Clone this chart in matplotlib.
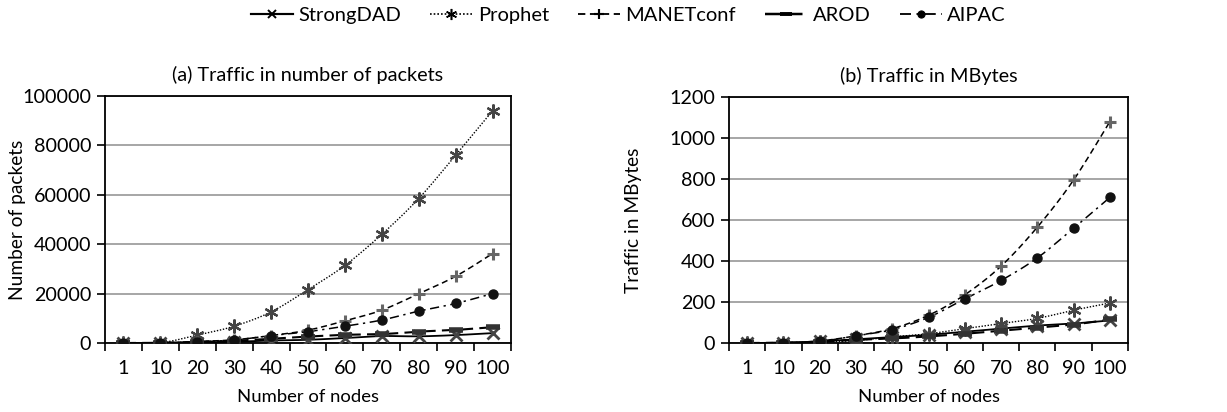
import numpy as np
import matplotlib
matplotlib.use('Agg')
import matplotlib.pyplot as plt
from matplotlib.lines import Line2D
from matplotlib.ticker import FixedLocator

plt.rcParams['font.family'] = ['Lato', 'DejaVu Sans']

nodes = ['1', '10', '20', '30', '40', '50', '60', '70', '80', '90', '100']

# (a) Traffic in number of packets
pk_strongdad = [0, 30, 200, 500, 1000, 1300, 2000, 2800, 2700, 3200, 4000]
pk_prophet = [0, 100, 3200, 6800, 12600, 21600, 31400, 44000, 58500, 76000, 94000]
pk_manetconf = [0, 100, 600, 1300, 3000, 5200, 9000, 13300, 20000, 27000, 36200]
pk_arod = [0, 50, 400, 900, 1700, 2600, 3300, 3600, 4600, 5300, 6400]
pk_aipac = [0, 100, 500, 1200, 3000, 4600, 6800, 9300, 12900, 16000, 20000]

# (b) Traffic in MBytes
mb_strongdad = [0, 1, 8, 18, 28, 40, 55, 70, 85, 95, 110]
mb_prophet = [0, 1, 5, 12, 30, 45, 70, 95, 120, 160, 195]
mb_manetconf = [0, 2, 10, 35, 70, 135, 235, 375, 565, 795, 1080]
mb_arod = [0, 1, 6, 15, 22, 32, 45, 60, 75, 90, 115]
mb_aipac = [0, 1, 8, 35, 65, 125, 215, 305, 415, 560, 710]

series_names = ['StrongDAD', 'Prophet', 'MANETconf', 'AROD', 'AIPAC']
titles = ['(a) Traffic in number of packets', '(b) Traffic in MBytes']

styles = {
    'StrongDAD': dict(ls='-', lw=1.3, marker='x', ms=8, mec='#444444', mfc='#444444', mew=2.0),
    'Prophet': dict(ls=(0, (1, 1.2)), lw=1.0, marker=(6, 2, 0), ms=10, mec='#444444', mfc='#444444', mew=1.6),
    'MANETconf': dict(ls=(0, (4, 2.5)), lw=1.1, marker='+', ms=9, mec='#666666', mfc='#666666', mew=2.2),
    'AROD': dict(ls=(0, (6, 3)), lw=1.5, marker='_', ms=10, mec='#333333', mfc='#333333', mew=4.0),
    'AIPAC': dict(ls=(0, (6, 3, 1.5, 3)), lw=1.1, marker='o', ms=6.5, mec='#111111', mfc='#111111', mew=1.0),
}


def smooth(x, y, n=24):
    x = np.asarray(x, float)
    y = np.asarray(y, float)
    xs, ys = [x[0]], [y[0]]
    m = len(x)
    t = np.linspace(0, 1, n)[1:]
    for i in range(m - 1):
        i0 = max(i - 1, 0)
        i3 = min(i + 2, m - 1)
        c1x = x[i] + (x[i + 1] - x[i0]) / 6
        c1y = y[i] + (y[i + 1] - y[i0]) / 6
        c2x = x[i + 1] - (x[i3] - x[i]) / 6
        c2y = y[i + 1] - (y[i3] - y[i]) / 6
        bx = (1 - t) ** 3 * x[i] + 3 * (1 - t) ** 2 * t * c1x + 3 * (1 - t) * t ** 2 * c2x + t ** 3 * x[i + 1]
        by = (1 - t) ** 3 * y[i] + 3 * (1 - t) ** 2 * t * c1y + 3 * (1 - t) * t ** 2 * c2y + t ** 3 * y[i + 1]
        xs.extend(bx)
        ys.extend(by)
    return np.array(xs), np.array(ys)


W, H = 1227, 412
fig = plt.figure(figsize=(W / 100, H / 100), dpi=100)

ax1 = fig.add_axes([105 / W, (H - 343) / H, 406 / W, 247 / H])
ax2 = fig.add_axes([729 / W, (H - 343) / H, 399 / W, 246 / H])

data_a = [pk_strongdad, pk_prophet, pk_manetconf, pk_arod, pk_aipac]
data_b = [mb_strongdad, mb_prophet, mb_manetconf, mb_arod, mb_aipac]

TFS = 14.2
LFS = 13.3

for ax, data, ymax, ystep, ylabel, ylx, title in [
    (ax1, data_a, 100000, 20000, 'Number of packets', (18 - 105) / 406, titles[0]),
    (ax2, data_b, 1200, 200, 'Traffic in MBytes', (633 - 729) / 399, titles[1]),
]:
    x = np.arange(len(nodes))
    for name, vals in zip(series_names, data):
        st = styles[name]
        sx, sy = smooth(x, vals)
        ax.plot(sx, sy, color='black', ls=st['ls'], lw=st['lw'], zorder=3)
        ax.plot(x, vals, ls='none', marker=st['marker'], ms=st['ms'], mec=st['mec'],
                mfc=st['mfc'], mew=st['mew'], zorder=4)
    ax.set_xlim(-0.5, len(nodes) - 0.5)
    ax.set_ylim(0, ymax)
    ax.set_yticks(np.arange(0, ymax + 1, ystep))
    ax.set_xticks(x)
    ax.set_xticklabels(nodes)
    ax.xaxis.set_minor_locator(FixedLocator(np.arange(-0.5, len(nodes), 1.0)))
    ax.tick_params(axis='x', which='major', length=0, pad=12, labelsize=TFS)
    ax.tick_params(axis='x', which='minor', length=6, width=1.2, direction='out')
    ax.tick_params(axis='y', which='major', length=6, width=1.2, direction='out', labelsize=TFS, pad=4)
    ax.grid(axis='y', color='#a6a6a6', lw=1.4, zorder=0)
    ax.set_axisbelow(True)
    for sp in ax.spines.values():
        sp.set_color('black')
        sp.set_linewidth(1.3)
    ax.set_xlabel('Number of nodes', fontsize=LFS, va='center')
    ax.xaxis.set_label_coords(0.5, (343 - 397) / 247)
    ax.set_ylabel(ylabel, fontsize=LFS + 0.5, va='center')
    ax.yaxis.set_label_coords(ylx, 0.5)
    ax.text(0.5, 1 + (96 - 75) / 247, title, transform=ax.transAxes, ha='center', va='center',
            fontsize=14.3)

handles = []
for name in series_names:
    st = styles[name]
    handles.append(Line2D([], [], color='black', ls=st['ls'], lw=st['lw'] * 1.2, marker=st['marker'],
                          ms=st['ms'] * 0.8, mec='black', mfc='black', mew=st['mew'] * 0.7))
fig.legend(handles, series_names, loc='center', bbox_to_anchor=(0.512, 1 - 15 / H), ncol=5,
           frameon=False, fontsize=14.5, handlelength=2.1, handletextpad=0.25, columnspacing=1.45)

fig.savefig('out.png', dpi=100)
